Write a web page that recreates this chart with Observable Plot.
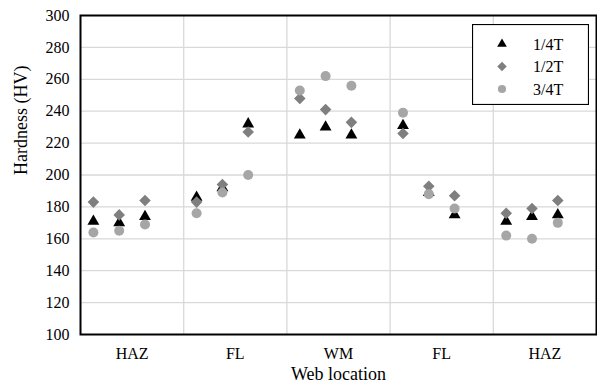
<!DOCTYPE html>
<html><head><meta charset="utf-8">
<script src="https://cdn.jsdelivr.net/npm/d3@7"></script>
<script src="https://cdn.jsdelivr.net/npm/@observablehq/plot@0.6"></script>
<style>
body{margin:0;background:#fff;}
#wrap{position:relative;width:597px;height:387px;font-family:"Liberation Serif","DejaVu Serif","Noto Serif",serif;}
#wrap svg text{font-family:"Liberation Serif","DejaVu Serif","Noto Serif",serif;}
#legend{position:absolute;left:472px;top:24px;}
</style></head><body><div id="wrap"></div>
<script>
// categories
const groups = ["HAZ", "FL", "WM", "FL", "HAZ"];
const groupCenters = [2, 6, 10, 14, 18];
const groupBounds = [4, 8, 12, 16];
// measurement positions along the web
const xPos = [0.5, 1.5, 2.5, 4.5, 5.5, 6.5, 8.5, 9.5, 10.5, 12.5, 13.5, 14.5, 16.5, 17.5, 18.5];
// series values (HV)
const quarterT      = [171, 170, 174, 186, 192, 232, 225, 230, 225, 231, 189, 175, 171, 174, 175];
const halfT         = [183, 175, 184, 183, 194, 227, 248, 241, 233, 226, 193, 187, 176, 179, 184];
const threeQuarterT = [164, 165, 169, 176, 189, 200, 253, 262, 256, 239, 188, 179, 162, 160, 170];
const seriesNames = ["1/4T", "1/2T", "3/4T"];
const yTicks = [100, 120, 140, 160, 180, 200, 220, 240, 260, 280, 300];

const FONT = "'Liberation Serif','DejaVu Serif','Noto Serif',serif";
const seriesStyle = [
  {symbol: "triangle", fill: "#000000", r: 4.4},
  {symbol: "diamond2", fill: "#7f7f7f", r: 5.2},
  {symbol: "circle",   fill: "#a6a6a6", r: 5.0}
];
const seriesValues = [quarterT, halfT, threeQuarterT];
const rows = seriesValues.map((vals, s) => xPos.map((x, i) => ({x, y: vals[i], s})));

const labelAt = new Map(groupCenters.map((c, i) => [c, groups[i]]));
const innerTicks = yTicks.filter(t => t > 100 && t < 300);

const chart = Plot.plot({
  width: 597,
  height: 387,
  marginLeft: 80,
  marginRight: 1,
  marginTop: 15,
  marginBottom: 53,
  style: {fontFamily: FONT, fontSize: "16px", color: "#000", background: "#fff"},
  x: {domain: [0, 20]},
  y: {domain: [100, 300]},
  marks: [
    Plot.ruleY(innerTicks, {stroke: "#d9d9d9", strokeWidth: 1.3}),
    Plot.ruleX(groupBounds, {stroke: "#d9d9d9", strokeWidth: 1.3}),
    ...rows.map((d, s) => Plot.dot(d, {x: "x", y: "y", symbol: () => seriesStyle[s].symbol, fill: seriesStyle[s].fill, r: seriesStyle[s].r, stroke: "none"})),
    Plot.frame({stroke: "#000", strokeWidth: 2}),
    Plot.axisY(yTicks, {tickSize: 0, tickPadding: 11, label: null, fontSize: 16, fontFamily: FONT}),
    Plot.axisX(groupCenters, {tickSize: 0, tickPadding: 13, tickFormat: d => labelAt.get(d), label: null, fontSize: 16, fontFamily: FONT}),
    Plot.text(["Web location"], {frameAnchor: "bottom", dy: 45.5, fontSize: 18, fontFamily: FONT}),
    Plot.text(["Hardness (HV)"], {frameAnchor: "left", rotate: -90, dx: -59.5, fontSize: 18, fontFamily: FONT})
  ]
});
chart.style.display = "block";
document.getElementById("wrap").appendChild(chart);

// legend box
const lw = 117, lh = 81;
const leg = d3.select("#wrap").append("svg").attr("id", "legend").attr("width", lw).attr("height", lh);
leg.append("rect").attr("x", 0.5).attr("y", 0.5).attr("width", lw - 1).attr("height", lh - 1)
  .attr("fill", "#fff").attr("stroke", "#000").attr("stroke-width", 1.2);
const symMap = {triangle: d3.symbolTriangle, diamond2: d3.symbolDiamond2, circle: d3.symbolCircle};
seriesNames.forEach((name, i) => {
  const cy = 20 + i * 22.5;
  const st = seriesStyle[i];
  const rr = st.r * 0.82;
  leg.append("path")
    .attr("d", d3.symbol(symMap[st.symbol], Math.PI * rr * rr)())
    .attr("transform", `translate(30,${cy})`)
    .attr("fill", st.fill);
  leg.append("text").attr("x", 61).attr("y", cy).attr("dy", "0.35em")
    .attr("font-family", FONT).attr("font-size", 16)
    .text(name);
});
</script>
</body></html>
